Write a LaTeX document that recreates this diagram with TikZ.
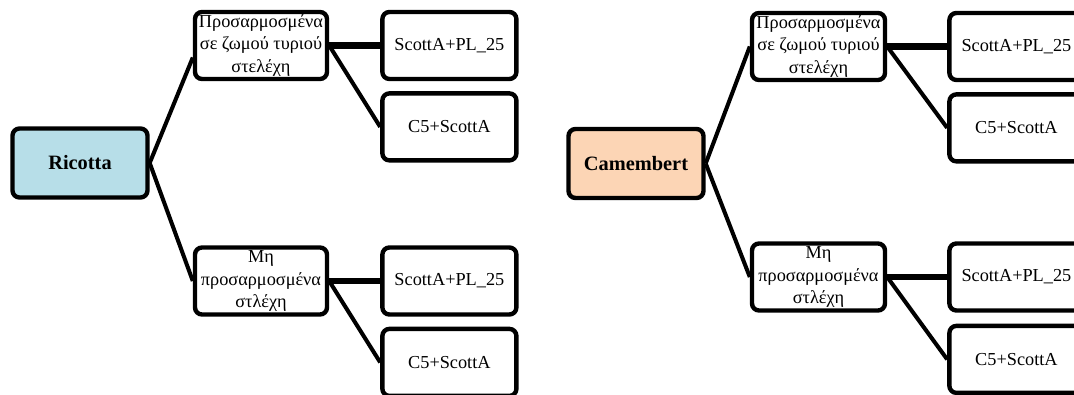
\documentclass[tikz,border=0pt]{standalone}
\usepackage{fontspec}
\setmainfont{Liberation Serif}
\usetikzlibrary{positioning}
\definecolor{ricottablue}{RGB}{183,222,232}
\definecolor{camembertpeach}{RGB}{252,213,181}

\begin{document}
\begin{tikzpicture}[
  font=\fontsize{10.4}{12.6}\selectfont,
  box/.style={draw,line width=2.5pt,rounded corners=4pt,align=center,inner sep=1pt,
    minimum width=#1,minimum height=1.34cm},
  box/.default=2.68cm,
  cheese/.style={box=2.7cm,minimum height=1.38cm,fill=#1,font=\fontsize{11.6}{13}\selectfont\bfseries},
  link/.style={line width=2.3pt},
  trunk/.style={line width=3.8pt}
]
\clip (0,0) rectangle (21.48,7.88);

% ---------- Left: Ricotta
\node[cheese=ricottablue] (ric) at (1.60,4.62) {Ricotta};
\node[box=2.64cm] (ric-ad) at (5.22,6.97) {Προσαρμοσμένα\\σε ζωμού τυριού\\στελέχη};
\node[box=2.64cm] (ric-na) at (5.22,2.26) {Μη\\προσαρμοσμένα\\στλέχη};
\node[box,right=1.02cm of ric-ad] (ric-ad1) {ScottA+PL\_25};
\node[box,below=0.2cm of ric-ad1] (ric-ad2) {C5+ScottA};
\node[box,right=1.02cm of ric-na] (ric-na1) {ScottA+PL\_25};
\node[box,below=0.2cm of ric-na1] (ric-na2) {C5+ScottA};

\draw[link] (ric.east) -- (ric-ad.190);
\draw[link] (ric.east) -- (ric-na.west);
\foreach \m in {ad,na}{
  \draw[trunk] (ric-\m.east) -- (ric-\m1.west);
  \draw[link] (ric-\m.east) -- (ric-\m2.west);
}

% ---------- Right: Camembert
\begin{scope}[xshift=11.12cm]
\node[cheese=camembertpeach] (cam) at (1.60,4.61) {Camembert};
\node[box=2.66cm] (cam-ad) at (5.25,6.95) {Προσαρμοσμένα\\σε ζωμού τυριού\\στελέχη};
\node[box=2.66cm] (cam-na) at (5.25,2.34) {Μη\\προσαρμοσμένα\\στλέχη};
\node[box,right=1.2cm of cam-ad] (cam-ad1) {ScottA+PL\_25};
\node[box,below=0.2cm of cam-ad1] (cam-ad2) {C5+ScottA};
\node[box,right=1.2cm of cam-na] (cam-na1) {ScottA+PL\_25};
\node[box,below=0.22cm of cam-na1] (cam-na2) {C5+ScottA};

\draw[link] (cam.east) -- (cam-ad.west);
\draw[link] (cam.east) -- (cam-na.west);
\foreach \m in {ad,na}{
  \draw[trunk] (cam-\m.east) -- (cam-\m1.west);
  \draw[link] (cam-\m.east) -- (cam-\m2.west);
}
\end{scope}
\end{tikzpicture}
\end{document}
